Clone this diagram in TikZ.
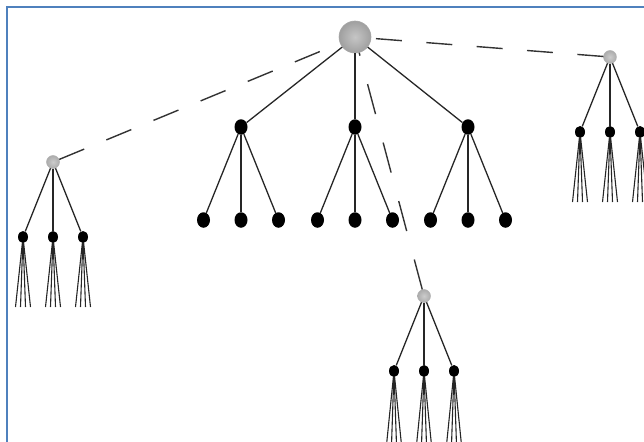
\documentclass[tikz,border=0pt]{standalone}
\usetikzlibrary{shapes.geometric}
\definecolor{frameblue}{RGB}{79,129,189}
\begin{document}
\begin{tikzpicture}[x=1pt,y=-1pt,
 rootnode/.style={circle,minimum size=32pt,inner sep=0pt,inner color=gray!45,outer color=gray!75,draw=gray!70,line width=0.6pt},
 greynode/.style={circle,minimum size=13pt,inner sep=0pt,inner color=gray!40,outer color=gray!65,draw=gray!60,line width=0.5pt},
 bignode/.style={ellipse,minimum width=13pt,minimum height=15.5pt,inner sep=0pt,fill=black},
 smallnode/.style={ellipse,minimum width=10pt,minimum height=12pt,inner sep=0pt,fill=black},
 edge/.style={draw=black!85,line width=1.3pt},
 fan/.style={draw=black!85,line width=1.1pt},
 dashedge/.style={draw=black!80,line width=1.4pt,dash pattern=on 27pt off 24pt}]
\useasboundingbox (0,0) rectangle (644,441);
\draw[frameblue,line width=2pt] (645,7) -- (6.5,7) -- (6.5,442);
% main tree
\node[rootnode] (r) at (355,37) {};
\foreach \c/\x in {a/241,b/355,c/468}{
  \node[bignode] (\c) at (\x,127) {};
  \draw[edge] (r) -- (\c);
}
\foreach \p/\x in {a/241,b/355,c/468}{
  \foreach \o [count=\k] in {-37.5,0,37.5}{
    \node[bignode] (\p\k) at (\x+\o,220) {};
    \draw[edge] (\p) -- (\p\k);
  }
}
% side trees
\node[greynode] (L) at (53,162) {};
\node[greynode] (R) at (610,57) {};
\node[greynode] (B) at (424,296) {};
\foreach \t/\x/\y/\yb in {L/53/162/307,R/610/57/202,B/424/296/445}{
  \foreach \o [count=\k] in {-30,0,30}{
    \node[smallnode] (\t\k) at (\x+\o,\y+75) {};
    \draw[edge] (\t) -- (\t\k);
    \foreach \f [count=\m] in {-7.5,-2.5,2.5,7.5}{
      \coordinate (\t\k f\m) at (\x+\o+\f,\yb);
      \draw[fan] (\t\k) -- (\t\k f\m);
    }
  }
}
% dashed links
\draw[dashedge] (L) -- (r);
\draw[dashedge,dash pattern=on 26pt off 24.5pt] (R) -- (r);
\draw[dashedge,dash pattern=on 31pt off 29.5pt] (B) -- (r);
\end{tikzpicture}
\end{document}
